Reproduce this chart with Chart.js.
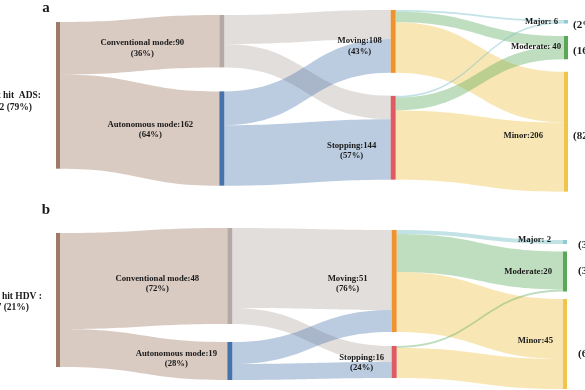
<!DOCTYPE html>
<html lang="en">
<head>
    <meta charset="UTF-8">
    <title>Sankey - ADS / HDV</title>
    <style>
        html, body { margin: 0; padding: 0; background: #fff; }
        #sankey { display: block; }
    </style>
</head>
<body>
    <canvas id="sankey" width="585" height="390"></canvas>

    <script src="https://cdn.jsdelivr.net/npm/chart.js"></script>
    <script>
    // nodes of the sankey, column of each node
    const nodeNames = ['Total', 'Conventional mode', 'Autonomous mode', 'Moving', 'Stopping', 'Major', 'Moderate', 'Minor'];
    const nodeColumn = [0, 1, 1, 2, 2, 3, 3, 3];

    // links (index into nodeNames)
    const linkFrom = [0, 0, 1, 1, 2, 2, 3, 3, 3, 4, 4, 4];
    const linkTo   = [1, 2, 3, 4, 3, 4, 5, 6, 7, 5, 6, 7];

    // flow values, panel a (hit ADS) and panel b (hit HDV)
    const adsValues = [90, 162, 50, 40, 58, 104, 3, 18, 87, 3, 22, 119];
    const hdvValues = [48, 19, 40, 8, 11, 8, 2, 19, 30, 0, 1, 15];

    const panelLetters = ['a', 'b'];
    const panelTitles = ['Vehicles that hit  ADS:', 'Vehicles that hit HDV :'];
    const panelSeps = [
        ['', ':', ':', ':', ':', ': ', ': ', ':'],
        ['', ':', ':', ':', ':', ': ', ':', ':']
    ];

    const nodeColors = ['#9f7a66', '#b5a9a5', '#4673ab', '#f0922e', '#df5a62', '#8ecbd3', '#58a858', '#efc54c'];
    const flowColors = ['rgba(160,122,102,0.4)', 'rgba(183,172,168,0.4)', 'rgba(70,115,171,0.37)',
        'rgba(240,146,46,0.3)', 'rgba(223,90,98,0.3)', 'rgba(120,190,200,0.45)',
        'rgba(88,168,88,0.38)', 'rgba(239,197,76,0.42)'];

    // placement of each panel (pixel shifts, gaps, label offsets)
    const layout = [
        {
            axis: 'ya', values: adsValues,
            top: [0, -7, -12, -2], gap: [0, 24, 23, 12.5], dx: [0, -6, -4, 0],
            label: { 1: [-77, 7], 2: [-69, -8.5], 3: [-31, 5], 4: [-39, 12.7], 5: [-6, 0.5], 6: [-3, -0.5], 7: [-21, 4] },
            pct: { 5: [9, 3.5], 6: [9, 4], 7: [9, 4] },
            left: [[-15, 0], [-24, 12]],
            letter: [46, 12]
        },
        {
            axis: 'yb', values: hdvValues,
            top: [0, -5, -3, 7], gap: [0, 18, 14, 7.5], dx: [0, 2, -3, -1],
            label: { 1: [-70, 7.5], 2: [-51, -2.5], 3: [-44, 2.5], 4: [-30, 0.5], 5: [-12, -2], 6: [-11, 0.5], 7: [-10, -3] },
            pct: { 5: [15, 3], 6: [15, 0], 7: [15, 10] },
            left: [[-14, -3], [-27, 8]],
            letter: [46, 214]
        }
    ];
    const nodeW = [4, 5, 5, 4];

    function sum(a) { return a.reduce(function(s, v) { return s + v; }, 0); }

    function nodeValues(values) {
        return nodeNames.map(function(_, n) {
            let inV = 0, outV = 0;
            for (let i = 0; i < values.length; i++) {
                if (linkTo[i] === n) inV += values[i];
                if (linkFrom[i] === n) outV += values[i];
            }
            return Math.max(inV, outV);
        });
    }

    function band(ctx, x0, x1, a0, a1, b0, b1) {
        const xm = (x0 + x1) / 2;
        ctx.beginPath();
        ctx.moveTo(x0, a0);
        ctx.bezierCurveTo(xm, a0, xm, b0, x1, b0);
        ctx.lineTo(x1, b1);
        ctx.bezierCurveTo(xm, b1, xm, a1, x0, a1);
        ctx.closePath();
        ctx.fill();
    }

    const sankeyPlugin = {
        id: 'sankey',
        afterDraw(chart) {
            const ctx = chart.ctx;
            const xs = chart.scales.x;
            const grand = layout.reduce(function(s, L) { return s + nodeValues(L.values)[0]; }, 0);

            layout.forEach(function(L, pi) {
                const ys = chart.scales[L.axis];
                const nVal = nodeValues(L.values);
                const total = nVal[0];
                const unit = function(v) { return ys.getPixelForValue(v) - ys.getPixelForValue(0); };

                // node boxes
                const cum = [0, 0, 0, 0], cnt = [0, 0, 0, 0];
                const nodes = nodeNames.map(function(_, n) {
                    const c = nodeColumn[n];
                    const shift = L.top[c] + cnt[c] * L.gap[c];
                    const y0 = ys.getPixelForValue(cum[c]) + shift;
                    const y1 = ys.getPixelForValue(cum[c] + nVal[n]) + shift;
                    cum[c] += nVal[n];
                    cnt[c]++;
                    const x = xs.getPixelForValue(c) + L.dx[c];
                    return { x: x, w: nodeW[c], y0: y0, y1: y1, outY: y0, inY: y0 };
                });

                // flows
                ctx.save();
                linkFrom.forEach(function(s, i) {
                    const v = L.values[i];
                    if (!v) return;
                    const t = linkTo[i];
                    const S = nodes[s], T = nodes[t];
                    const h = unit(v);
                    ctx.fillStyle = nodeColumn[t] === 3 ? flowColors[t] : flowColors[s];
                    band(ctx, S.x + S.w, T.x, S.outY, S.outY + h, T.inY, T.inY + h);
                    S.outY += h;
                    T.inY += h;
                });

                // node bars
                nodes.forEach(function(N, n) {
                    ctx.fillStyle = nodeColors[n];
                    ctx.fillRect(N.x, N.y0, N.w, Math.max(N.y1 - N.y0, 1));
                });

                // labels
                ctx.fillStyle = '#1a1a1a';
                ctx.textBaseline = 'middle';
                nodes.forEach(function(N, n) {
                    if (n === 0) return;
                    const off = L.label[n];
                    const cy = (N.y0 + N.y1) / 2 + off[1];
                    const pct = Math.round(nVal[n] / total * 100);
                    const txt = nodeNames[n] + panelSeps[pi][n] + nVal[n];
                    ctx.font = 'bold 8.7px "Liberation Serif"';
                    if (nodeColumn[n] < 3) {
                        ctx.textAlign = 'center';
                        ctx.fillText(txt, N.x + off[0], cy - 5.2);
                        ctx.fillText('(' + pct + '%)', N.x + off[0], cy + 5.2);
                    } else {
                        ctx.textAlign = 'right';
                        ctx.fillText(txt, N.x + off[0], cy);
                        const po = L.pct[n];
                        ctx.font = 'bold 11px "Liberation Serif"';
                        ctx.textAlign = 'left';
                        ctx.fillText('(' + pct + '%)', N.x + po[0], (N.y0 + N.y1) / 2 + po[1]);
                    }
                });

                // left total label
                const N0 = nodes[0];
                const c0 = (N0.y0 + N0.y1) / 2;
                ctx.font = 'bold 9.5px "Liberation Serif"';
                ctx.textAlign = 'right';
                ctx.fillText(panelTitles[pi], N0.x + L.left[0][0], c0 + L.left[0][1]);
                ctx.fillText(total + ' (' + Math.round(total / grand * 100) + '%)', N0.x + L.left[1][0], c0 + L.left[1][1]);

                // panel letter
                ctx.font = 'bold 15px "Liberation Serif"';
                ctx.textAlign = 'center';
                ctx.textBaseline = 'alphabetic';
                ctx.fillText(panelLetters[pi], L.letter[0], L.letter[1]);
                ctx.restore();
            });
        }
    };

    new Chart(document.getElementById('sankey'), {
        type: 'scatter',
        data: { datasets: [] },
        options: {
            responsive: false,
            animation: false,
            layout: { padding: 0 },
            plugins: { legend: { display: false }, tooltip: { enabled: false } },
            scales: {
                // columns: 0 -> 56px, 3 -> 564px
                x: { type: 'linear', min: -0.3307, max: 3.124, display: false },
                // panel a: 0.582 px per vehicle, 0 at y=22
                ya: { type: 'linear', axis: 'y', reverse: true, min: -37.8, max: 632.3, display: false },
                // panel b: 2 px per vehicle, 0 at y=233
                yb: { type: 'linear', axis: 'y', reverse: true, min: -116.5, max: 78.5, display: false }
            }
        },
        plugins: [sankeyPlugin]
    });
    </script>
</body>
</html>
